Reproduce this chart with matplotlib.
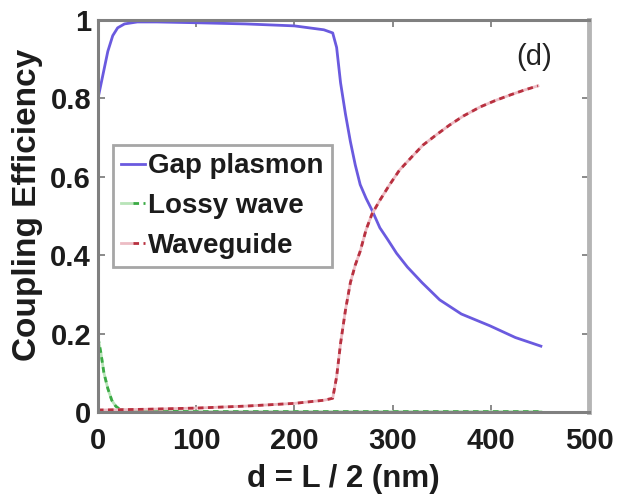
import matplotlib
matplotlib.use("Agg")
import matplotlib.pyplot as plt
from matplotlib.legend_handler import HandlerTuple

plt.rcParams['font.family'] = ['Liberation Sans', 'DejaVu Sans']

# Data
d_gap = [0, 5, 10, 15, 20, 27, 40, 60, 100, 150, 200, 230, 239, 243, 247, 252, 257, 262, 267, 273, 279, 287, 295, 304, 315, 330, 348, 370, 399, 425, 451]
gap = [0.80, 0.86, 0.92, 0.96, 0.98, 0.99, 0.995, 0.995, 0.993, 0.99, 0.985, 0.975, 0.967, 0.93, 0.84, 0.76, 0.69, 0.63, 0.58, 0.545, 0.515, 0.47, 0.44, 0.405, 0.37, 0.33, 0.286, 0.25, 0.22, 0.19, 0.168]

d_lossy = [0, 3, 6, 10, 14, 18, 22, 30, 50, 100, 200, 300, 400, 451]
lossy = [0.19, 0.15, 0.10, 0.06, 0.03, 0.015, 0.007, 0.003, 0.002, 0.001, 0.001, 0.001, 0.001, 0.001]

d_wg = [0, 50, 100, 150, 200, 230, 239, 243, 247, 252, 257, 262, 267, 273, 279, 287, 297, 307, 320, 331, 345, 358, 372, 389, 405, 420, 435, 448]
wg = [0.005, 0.007, 0.01, 0.015, 0.022, 0.03, 0.035, 0.09, 0.175, 0.26, 0.33, 0.375, 0.41, 0.465, 0.505, 0.54, 0.58, 0.617, 0.652, 0.681, 0.708, 0.732, 0.755, 0.778, 0.795, 0.809, 0.822, 0.832]

xticks = [0, 100, 200, 300, 400, 500]
yticks = [0, 0.2, 0.4, 0.6, 0.8, 1]
yticklabels = ['0', '0.2', '0.4', '0.6', '0.8', '1']

txt = '#1c1c1c'

fig = plt.figure(figsize=(6.17, 4.99), dpi=100)
ax = fig.add_axes([98/617, 1 - 412/499, (589 - 98)/617, (412 - 20)/499])

h_gap, = ax.plot(d_gap, gap, color='#6a5adf', lw=2.0)
g_under, = ax.plot(d_lossy, lossy, color='#b8e4b8', lw=2.0)
g_dash, = ax.plot(d_lossy, lossy, color='#3aaa44', lw=2.0, ls=(0, (2.0, 1.6)))
r_under, = ax.plot(d_wg, wg, color='#ecbcc4', lw=2.0)
r_dash, = ax.plot(d_wg, wg, color='#b8303f', lw=2.0, ls=(0, (2.0, 1.6)))

ax.set_xlim(0, 500)
ax.set_ylim(0, 1)
ax.set_xticks(xticks)
ax.set_yticks(yticks)
ax.set_yticklabels(yticklabels)
ax.tick_params(direction='in', top=True, right=True, length=5, width=1.2, color='#777777',
               labelsize=21, labelcolor=txt)
ax.tick_params(axis='x', pad=11)
ax.tick_params(axis='y', pad=5)
for lab in ax.get_xticklabels() + ax.get_yticklabels():
    lab.set_fontweight('bold')
for s in ax.spines.values():
    s.set_color('#808080')
    s.set_linewidth(2.2)
ax.spines['right'].set_color('#b5b5b5')
ax.spines['right'].set_linewidth(3.5)

ax.set_xlabel('d = L / 2 (nm)', fontsize=22.5, fontweight='bold', labelpad=6, color=txt)
ax.set_ylabel('Coupling Efficiency', fontsize=24, fontweight='bold', color=txt)
ax.yaxis.set_label_coords(-0.112, 0.528)
ax.text(444, 0.906, '(d)', fontsize=21, ha='center', va='center', color='#222222')

leg = ax.legend([h_gap, (g_under, g_dash), (r_under, r_dash)],
                ['Gap plasmon', 'Lossy wave', 'Waveguide'],
                handler_map={tuple: HandlerTuple(ndivide=None, pad=0)},
                loc='upper left', bbox_to_anchor=(15/491, 267/392), fontsize=20,
                frameon=True, fancybox=False, handlelength=0.85, handletextpad=0.1,
                borderpad=0.3, labelspacing=0.5, borderaxespad=0)
leg.get_frame().set_edgecolor('#909090')
leg.get_frame().set_linewidth(2.0)
for t in leg.get_texts():
    t.set_fontweight('bold')
    t.set_color(txt)

fig.savefig('out.png', dpi=100)
